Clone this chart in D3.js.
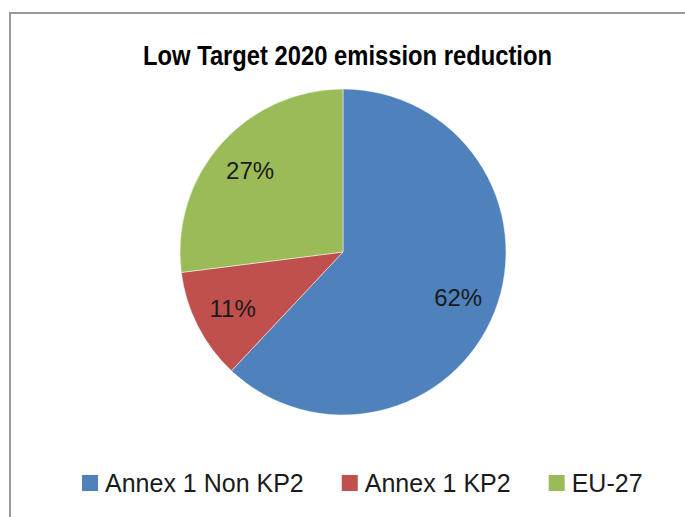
<!DOCTYPE html>
<html>
<head>
<meta charset="utf-8">
<script src="https://cdn.jsdelivr.net/npm/d3@7"></script>
<style>
  body { margin: 0; background: #fff; }
  svg { display: block; }
  .title { font-family: "Liberation Sans", Arial, sans-serif; font-weight: bold; font-size: 28px; }
  .label { font-family: "Liberation Sans", Arial, sans-serif; font-size: 24px; fill: #1a1a1a; }
  .legend text { font-family: "Liberation Sans", Arial, sans-serif; font-size: 25px; fill: #1a1a1a; }
</style>
</head>
<body>
<svg width="685" height="517"></svg>
<script>
// data van de grafiek
const categories = ["Annex 1 Non KP2", "Annex 1 KP2", "EU-27"]
const values = [62, 11, 27]
const colors = ["#4F81BD", "#C0504D", "#9BBB59"]

const svg = d3.select("svg")
const width = +svg.attr("width")
const height = +svg.attr("height")

// kader om de grafiek (loopt rechts en onder door)
svg.append("path")
    .attr("d", "M10,530 L10,13 L700,13")
    .attr("fill", "none")
    .attr("stroke", "#999")
    .attr("stroke-width", 2)

// smalle vette titel: glyphs samendrukken tot de breedte van het origineel
svg.append("text")
    .attr("class", "title")
    .attr("x", 143)
    .attr("y", 65)
    .attr("textLength", 409)
    .attr("lengthAdjust", "spacingAndGlyphs")
    .text("Low Target 2020 emission reduction")

const radius = 163
const g = svg.append("g")
    .attr("transform", "translate(343,252)")

const pie = d3.pie().sort(null).value(d => d)
const arcs = pie(values)

const arc = d3.arc().innerRadius(0).outerRadius(radius)
const labelArc = d3.arc().innerRadius(radius * 0.76).outerRadius(radius * 0.76)

g.selectAll("path")
    .data(arcs)
    .enter()
    .append("path")
    .attr("d", arc)
    .attr("fill", (d, i) => colors[i])
    .attr("stroke", "#fff")
    .attr("stroke-opacity", 0.6)
    .attr("stroke-width", 0.8)

g.selectAll("text")
    .data(arcs)
    .enter()
    .append("text")
    .attr("class", "label")
    .attr("transform", d => `translate(${labelArc.centroid(d)})`)
    .attr("text-anchor", "middle")
    .attr("dy", "0.36em")
    .text(d => d.data + "%")

// legenda onderaan
const legend = svg.append("g").attr("class", "legend")
let x = 82
categories.forEach((c, i) => {
    const item = legend.append("g")
    item.append("rect")
        .attr("x", x)
        .attr("y", 475)
        .attr("width", 16)
        .attr("height", 16)
        .attr("fill", colors[i])
    const t = item.append("text")
        .attr("x", x + 23)
        .attr("y", 492)
        .text(c)
    x += 23 + t.node().getComputedTextLength() + 38
})
</script>
</body>
</html>
